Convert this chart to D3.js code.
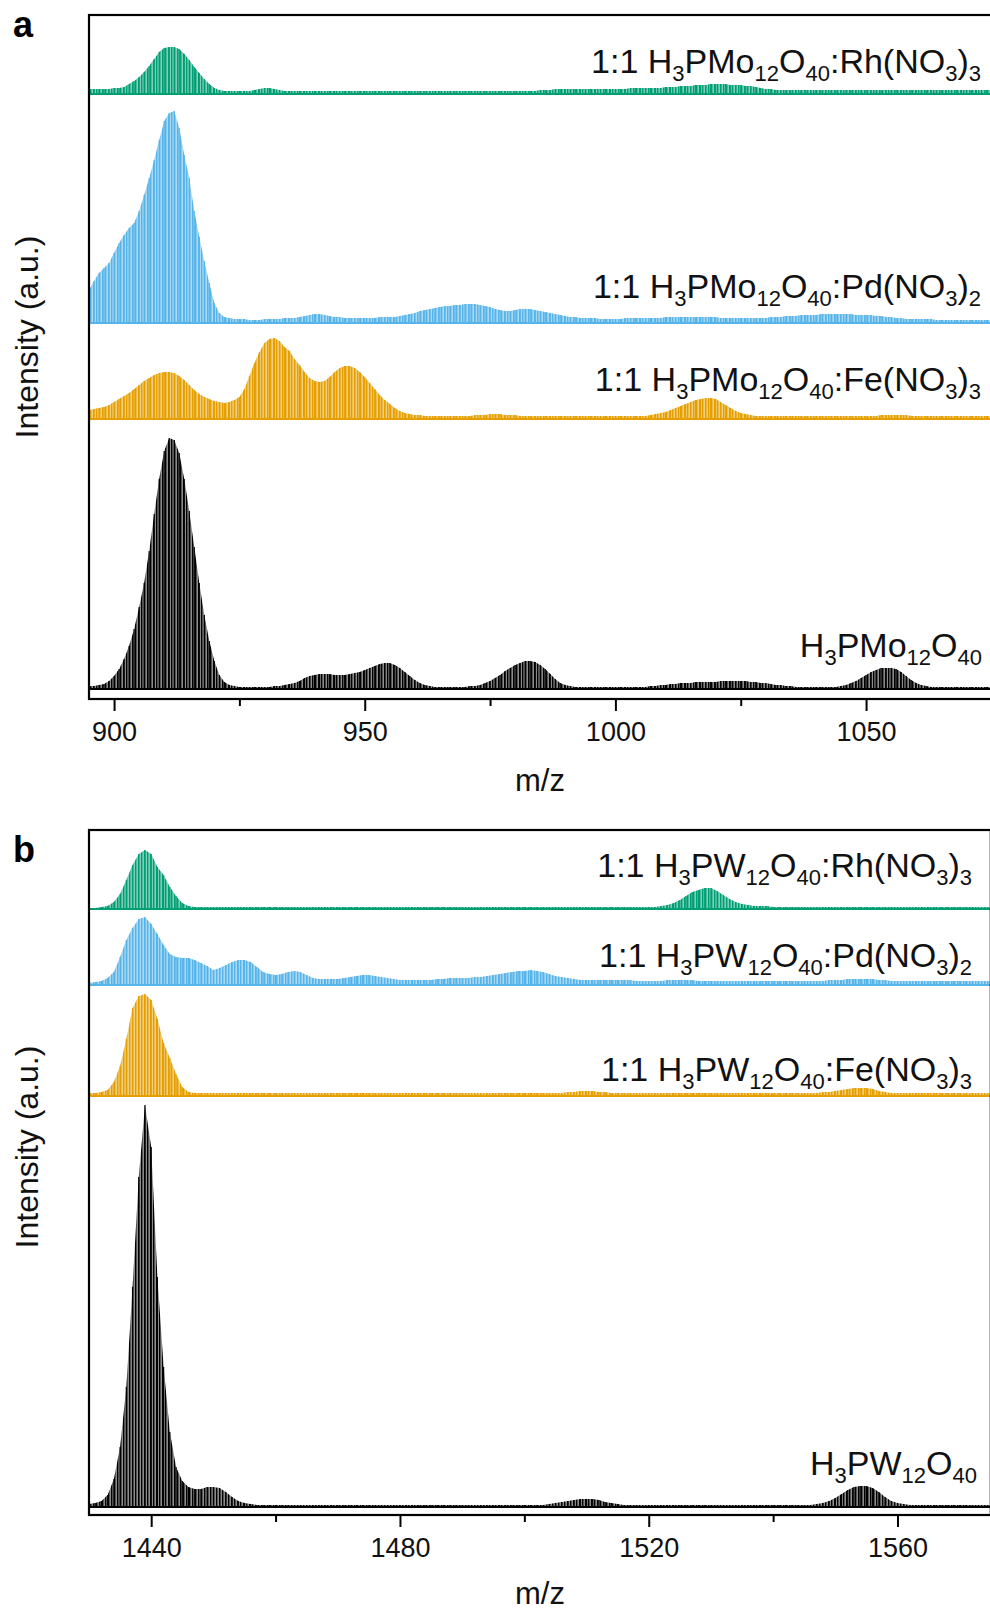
<!DOCTYPE html>
<html><head><meta charset="utf-8">
<script src="https://cdn.jsdelivr.net/npm/d3@7"></script>
<style>body{margin:0;background:#fff} svg{display:block}</style>
</head><body>
<svg id="chart" width="990" height="1613"></svg>
<script>
// ---------------- DATA ----------------
// Panel a: m/z 895..1075, step 1 (intensity a.u. above each trace's own baseline)
const mzStartA = 895, mzEndA = 1075;
const blackA = [
3,3,4,5,8,13,20,30,43,60,
82,106,138,175,210,238,251,249,236,210,
178,142,106,74,48,28,14,7,4,3,
2,2,2,2,2,2,2,3,3,4,
5,6,8,11,13,14,15,15,15,14,
14,14,15,16,17,19,21,23,25,26,
26,24,21,17,13,9,6,4,3,2,
2,2,2,2,2,2,3,3,4,6,
8,11,14,18,21,24,26,28,28,27,
24,20,15,10,6,4,3,2,2,2,
2,2,2,2,2,2,2,2,2,2,
2,2,3,3,4,4,5,5,6,6,
6,7,7,7,7,7,8,8,8,8,
8,8,7,7,6,6,5,4,4,3,
3,2,2,2,2,2,2,2,2,2,
3,4,6,8,11,14,17,19,21,21,
21,20,17,13,9,6,4,3,2,2,
2,2,2,2,2,2,2,2,2,2,
2];
const orangeA = [
9,10,11,12,14,17,20,23,26,30,
34,38,41,44,46,47,47,46,43,39,
34,29,25,22,20,18,17,16,17,19,
22,30,43,56,67,76,80,81,78,72,
68,60,54,47,41,38,37,38,42,47,
51,53,53,51,47,42,36,30,24,19,
15,11,8,6,5,4,4,3,3,3,
3,3,3,3,3,3,3,4,4,4,
5,5,5,4,4,4,3,3,3,3,
3,3,3,3,3,3,3,3,3,3,
3,3,3,3,3,3,3,3,3,3,
3,3,4,5,6,7,9,11,13,15,
17,19,20,21,21,20,17,14,11,8,
6,5,4,3,3,3,3,3,3,3,
3,3,3,3,3,3,3,3,3,3,
3,3,3,3,3,3,3,3,4,4,
4,4,4,4,3,3,3,3,3,3,
3,3,3,3,3,3,3,3,3,3,
3];
const blueA = [
33,42,50,55,60,70,80,88,95,100,
112,128,145,163,183,202,210,212,195,168,
145,112,86,62,40,20,10,6,5,4,
4,4,3,3,3,4,4,4,4,5,
5,5,6,7,8,9,9,8,7,6,
6,5,5,5,5,5,5,5,6,6,
6,6,7,8,9,10,12,13,14,15,
16,17,17,18,18,19,19,19,18,17,
16,14,13,12,12,13,14,14,14,13,
12,11,10,9,8,7,6,6,5,5,
5,5,4,4,4,4,4,5,5,5,
5,5,5,5,5,6,6,6,6,6,
6,6,6,6,6,6,5,5,5,5,
5,5,5,5,5,5,6,6,6,7,
7,7,8,8,8,8,9,9,9,9,
9,9,9,8,8,8,8,7,7,6,
6,5,5,4,4,4,4,4,4,3,
3,3,3,3,3,3,3,3,3,3,
3];
const greenA = [
5,5,5,5,5,6,6,7,10,13,
17,22,28,35,42,46,47,47,45,40,
34,27,21,15,10,6,4,3,3,3,
3,3,3,4,5,6,6,5,4,3,
3,3,3,3,3,3,3,3,3,3,
3,3,3,3,3,3,3,3,3,3,
3,3,3,3,3,3,3,3,3,3,
3,3,3,3,3,3,3,3,3,3,
3,3,3,3,3,3,3,3,3,3,
4,4,4,5,5,5,5,5,5,5,
5,5,5,5,5,5,5,5,6,6,
6,6,6,6,6,7,7,7,8,8,
8,9,9,9,10,10,10,10,9,9,
9,8,8,7,6,5,5,4,4,4,
4,4,4,4,4,4,4,4,4,4,
4,4,4,4,4,4,4,4,4,4,
4,4,4,4,4,4,4,4,4,4,
4,4,4,4,4,4,4,4,4,4,
4];
// vertical offsets (a.u.) of each stacked trace: black, orange, blue, green
const offsetsA = [10, 280, 376, 605];
const labelsA = ["H_{3}PMo_{12}O_{40}", "1:1 H_{3}PMo_{12}O_{40}:Fe(NO_{3})_{3}",
                 "1:1 H_{3}PMo_{12}O_{40}:Pd(NO_{3})_{2}", "1:1 H_{3}PMo_{12}O_{40}:Rh(NO_{3})_{3}"];
const majorTicksA = [900, 950, 1000, 1050];
const minorTicksA = [925, 975, 1025];

// Panel b: m/z 1430..1575, step 1
const mzStartB = 1430, mzEndB = 1575;
const blackB = [
3,4,6,12,28,60,120,220,330,402,
360,230,140,75,40,26,20,18,18,20,
20,19,15,10,6,4,3,2,2,2,
2,2,2,2,2,2,2,2,2,2,
2,2,2,2,2,2,2,2,2,2,
2,2,2,2,2,2,2,2,2,2,
2,2,2,2,2,2,2,2,2,2,
2,2,2,2,3,4,5,6,7,8,
8,8,7,5,4,3,2,2,2,2,
2,2,2,2,2,2,2,2,2,2,
2,2,2,2,2,2,2,2,2,2,
2,2,2,2,2,2,2,3,4,6,
9,13,17,20,21,21,19,15,10,6,
4,3,2,2,2,2,2,2,2,2,
2,2,2,2,2,2];
const orangeB = [
3,3,4,6,14,30,57,88,100,102,
96,77,53,38,22,9,4,3,3,3,
3,3,3,3,3,3,3,3,3,3,
3,3,3,3,3,3,3,3,3,3,
3,3,3,3,3,3,3,3,3,3,
3,3,3,3,3,3,3,3,3,3,
3,3,3,3,3,3,3,3,3,3,
3,3,3,3,3,3,3,4,4,5,
5,5,4,4,3,3,3,3,3,3,
3,3,3,3,3,3,3,3,3,3,
3,3,3,3,3,3,3,3,3,3,
3,3,3,3,3,3,3,3,4,4,
5,6,7,8,8,8,7,5,4,3,
3,3,3,3,3,3,3,3,3,3,
3,3,3,3,3,3];
const blueB = [
2,3,4,7,13,28,45,57,66,68,
61,51,40,31,28,27,27,25,22,19,
15,17,20,23,25,25,23,18,13,11,
10,11,13,14,13,10,7,6,6,6,
6,7,8,9,10,10,9,8,7,6,
5,5,5,5,5,5,6,6,7,7,
7,7,8,8,9,10,11,12,13,14,
14,15,14,13,11,9,8,7,6,5,
5,5,5,5,5,5,5,5,4,4,
4,4,4,5,5,5,5,5,4,4,
4,4,4,4,4,4,4,4,4,4,
4,4,4,4,4,4,4,4,4,5,
5,5,6,6,6,6,6,5,5,4,
4,4,4,4,4,4,4,4,4,4,
4,4,4,4,4,4];
const greenB = [
1,1,2,3,7,15,29,44,55,59,
55,42,34,22,13,6,3,2,2,2,
2,2,2,2,2,2,2,2,2,2,
2,2,2,2,2,2,2,2,2,2,
2,2,2,2,2,2,2,2,2,2,
2,2,2,2,2,2,2,2,2,2,
2,2,2,2,2,2,2,2,2,2,
2,2,2,2,2,2,2,2,2,2,
2,2,2,2,2,2,2,2,2,2,
2,2,3,4,6,9,13,17,19,21,
21,18,14,10,7,5,4,3,3,3,
2,2,2,2,2,2,2,2,2,2,
2,2,2,2,2,2,2,2,2,2,
2,2,2,2,2,2,2,2,2,2,
2,2,2,2,2,2];
const offsetsB = [8, 419, 530, 606];
const labelsB = ["H_{3}PW_{12}O_{40}", "1:1 H_{3}PW_{12}O_{40}:Fe(NO_{3})_{3}",
                 "1:1 H_{3}PW_{12}O_{40}:Pd(NO_{3})_{2}", "1:1 H_{3}PW_{12}O_{40}:Rh(NO_{3})_{3}"];
const majorTicksB = [1440, 1480, 1520, 1560];
const minorTicksB = [1460, 1500, 1540];

const colors = ["#000000", "#E69F00", "#56B4E9", "#009E73"];

// ---------------- DRAW ----------------
const svg = d3.select("#chart");
const FONT = "'Liberation Sans', Arial, Helvetica, sans-serif";
const defs = svg.append("defs");
colors.forEach((c, i) => {
  const p = defs.append("pattern").attr("id", "comb" + i).attr("patternUnits", "userSpaceOnUse")
    .attr("width", 3).attr("height", 10);
  p.append("rect").attr("width", 3).attr("height", 10).attr("fill", c).attr("fill-opacity", i === 0 ? 0.45 : 0.5);
  p.append("rect").attr("width", 1.4).attr("height", 10).attr("fill", c);
});

function richText(sel, str, fs, sfs, sdy) {
  const parts = str.split(/(_\{[^}]*\})/).filter(s => s.length);
  let prevSub = false;
  parts.forEach(p => {
    if (p.startsWith("_{")) {
      sel.append("tspan").attr("font-size", sfs).attr("dy", prevSub ? 0 : sdy).text(p.slice(2, -1));
      prevSub = true;
    } else {
      const t = sel.append("tspan").attr("font-size", fs).text(p);
      if (prevSub) t.attr("dy", -sdy);
      prevSub = false;
    }
  });
}

function panel(cfg) {
  const g = svg.append("g");
  const x = d3.scaleLinear().domain(cfg.xDomain).range([cfg.left, cfg.right]);
  const y = d3.scaleLinear().domain(cfg.yDomain).range([cfg.bottom, cfg.top]);
  const clipId = "clip" + cfg.name;
  defs.append("clipPath").attr("id", clipId).append("rect")
    .attr("x", cfg.left).attr("y", cfg.top).attr("width", cfg.right - cfg.left).attr("height", cfg.bottom - cfg.top);
  const plot = g.append("g").attr("clip-path", `url(#${clipId})`);

  cfg.series.forEach((vals, i) => {
    const off = cfg.offsets[i];
    const pts = vals.map((v, k) => ({ mz: cfg.mzStart + k, v }));
    const area = d3.area().x(d => x(d.mz)).y0(y(off)).y1(d => y(off + d.v));
    plot.append("path").datum(pts).attr("d", area).attr("fill", `url(#comb${i})`);
    plot.selectAll(null).data(pts).enter().append("line")
      .attr("x1", d => x(d.mz)).attr("x2", d => x(d.mz))
      .attr("y1", y(off)).attr("y2", d => y(off + d.v))
      .attr("stroke", colors[i]).attr("stroke-width", 1.2);
    plot.append("line").attr("x1", cfg.left).attr("x2", cfg.right)
      .attr("y1", y(off)).attr("y2", y(off)).attr("stroke", colors[i]).attr("stroke-width", 2);
  });

  // labels
  cfg.labels.forEach((lab, i) => {
    const t = g.append("text").attr("x", cfg.labelX[i]).attr("y", cfg.labelY[i])
      .attr("text-anchor", "end").attr("font-family", FONT).attr("fill", "#111");
    richText(t, lab, 34, 22, 8);
  });

  // frame
  g.append("rect").attr("x", cfg.left).attr("y", cfg.top)
    .attr("width", cfg.right - cfg.left).attr("height", cfg.bottom - cfg.top)
    .attr("fill", "none").attr("stroke", "#000").attr("stroke-width", 2.2);

  // axes
  const ax = g.append("g").attr("transform", `translate(0,${cfg.bottom})`)
    .call(d3.axisBottom(x).tickValues(cfg.major).tickSize(12).tickFormat(d3.format("d")));
  ax.select(".domain").remove();
  ax.selectAll(".tick line").attr("stroke", "#000").attr("stroke-width", 2);
  ax.selectAll(".tick text").attr("y", 42).attr("dy", 0).attr("font-size", 27)
    .attr("font-family", FONT).attr("fill", "#111");
  const axm = g.append("g").attr("transform", `translate(0,${cfg.bottom})`)
    .call(d3.axisBottom(x).tickValues(cfg.minor).tickSize(7).tickFormat(""));
  axm.select(".domain").remove();
  axm.selectAll(".tick line").attr("stroke", "#000").attr("stroke-width", 2);

  g.append("text").attr("x", 540).attr("y", cfg.bottom + cfg.xTitleDy).attr("text-anchor", "middle")
    .attr("font-family", FONT).attr("font-size", 31).attr("fill", "#111").text("m/z");
  g.append("text").attr("transform", `translate(38,${cfg.yTitleY}) rotate(-90)`).attr("text-anchor", "middle")
    .attr("font-family", FONT).attr("font-size", 32).attr("fill", "#111").text("Intensity (a.u.)");
  g.append("text").attr("x", 13).attr("y", cfg.letterY).attr("font-family", FONT)
    .attr("font-weight", "bold").attr("font-size", 36).attr("fill", "#000").text(cfg.name);
}

panel({
  name: "a", left: 89, right: 991.4, top: 15, bottom: 699,
  xDomain: [mzStartA, mzEndA], yDomain: [0, 684],
  mzStart: mzStartA, series: [blackA, orangeA, blueA, greenA], offsets: offsetsA,
  labels: labelsA, labelX: [982, 981, 981, 981], labelY: [657, 391, 298, 73],
  major: majorTicksA, minor: minorTicksA, xTitleDy: 92, yTitleY: 337, letterY: 37
});
panel({
  name: "b", left: 89, right: 990.8, top: 830, bottom: 1515,
  xDomain: [mzStartB, mzEndB], yDomain: [0, 685],
  mzStart: mzStartB, series: [blackB, orangeB, blueB, greenB], offsets: offsetsB,
  labels: labelsB, labelX: [977, 972, 972, 972], labelY: [1475, 1081, 967, 877],
  major: majorTicksB, minor: minorTicksB, xTitleDy: 89, yTitleY: 1147, letterY: 862
});
</script>
</body></html>
